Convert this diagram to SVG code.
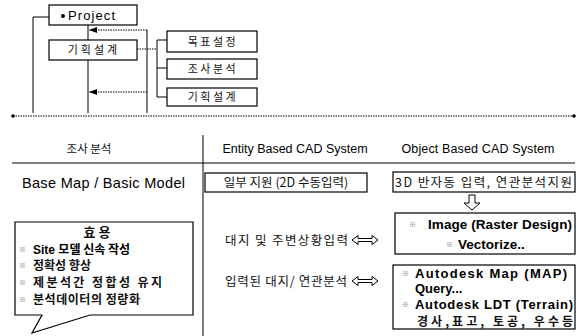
<svg xmlns="http://www.w3.org/2000/svg" width="579" height="336" viewBox="0 0 579 336">
<style>
.box{fill:#fff;stroke:#000;stroke-width:1.2}
.ln{fill:none;stroke:#000;stroke-width:1}
.dl{fill:none;stroke:#000;stroke-width:1;stroke-dasharray:1.5 1}
.t{font-family:'Liberation Sans','Noto Sans CJK KR',sans-serif;fill:#000}
.k{font-family:'Noto Sans CJK KR','Liberation Sans',sans-serif;fill:#111}
.b{font-weight:bold}
.bul{font-family:'Noto Sans CJK KR',sans-serif;font-size:7px;fill:#777}
</style>
<defs>
<marker id="ah" viewBox="0 0 8 6" refX="8" refY="3" markerWidth="8" markerHeight="6" orient="auto" markerUnits="userSpaceOnUse">
<path d="M0,0 L8,3 L0,6 Z" fill="#000"/>
</marker>
</defs>
<g id="connectors">
<path class="ln" d="M63,17 H33 V113"/>
<path class="ln" d="M88,25 V113"/>
<path class="ln" d="M147,30 V113"/>
<path class="dl" d="M147,30 H89" marker-end="url(#ah)"/>
<path class="dl" d="M147,92 H89" marker-end="url(#ah)"/>
<path class="dl" d="M137,49 H157"/>
<path class="ln" d="M157,40 V97"/>
<path class="ln" d="M157,40 H167 M157,68 H167 M157,97 H167"/>
<path class="dl" d="M13,116 H574" stroke-width="1.3"/>
<circle cx="13" cy="116" r="1.8" fill="#000"/>
<circle cx="574" cy="116" r="1.8" fill="#000"/>
<path class="ln" d="M12,163 H575" stroke-width="1.3"/>
<path class="ln" d="M203,135 V336"/>
<path class="ln" d="M469,195 H475 V203 H480 L472,210 L464,203 H469 Z" fill="#fff"/>
<path class="ln" d="M352,240 L358,235.5 V238.5 H372 V235.5 L378,240 L372,244.5 V241.5 H358 V244.5 Z" fill="#fff"/>
<path class="ln" d="M352,281 L358,276.5 V279.5 H372 V276.5 L378,281 L372,285.5 V282.5 H358 V285.5 Z" fill="#fff"/>
</g>
<g id="project">
<rect class="box" x="49" y="5" width="88" height="20"/>
<circle cx="63" cy="16" r="2" fill="#000"/>
<text class="t" x="68" y="20" font-size="13" textLength="47">Project</text>
</g>
<g id="plan">
<rect class="box" x="49" y="40" width="88" height="20"/>
<text class="k" x="94" y="54" font-size="11" letter-spacing="3" text-anchor="middle">기획설계</text>
</g>
<g id="goal">
<rect class="box" x="167" y="31" width="90" height="21"/>
<text class="k" x="213" y="45.5" font-size="11" letter-spacing="2.5" text-anchor="middle">목표설정</text>
</g>
<g id="survey">
<rect class="box" x="167" y="59" width="90" height="20"/>
<text class="k" x="213" y="73" font-size="11" letter-spacing="2.5" text-anchor="middle">조사분석</text>
</g>
<g id="plan2">
<rect class="box" x="167" y="88" width="90" height="18"/>
<text class="k" x="213" y="101" font-size="11" letter-spacing="2.5" text-anchor="middle">기획설계</text>
</g>
<g id="header">
<text class="k" x="89" y="152.5" font-size="11.5" text-anchor="middle">조사  분석</text>
<text class="t" x="295" y="152.5" font-size="12.5" text-anchor="middle">Entity Based CAD System</text>
<text class="t" x="478" y="152.5" font-size="12.5" text-anchor="middle" textLength="153">Object Based CAD System</text>
</g>
<g id="basemap">
<text class="t" x="22" y="188" font-size="14.5" textLength="163">Base Map / Basic Model</text>
</g>
<g id="partial">
<rect class="box" x="205" y="173" width="162" height="19"/>
<text class="k" x="286" y="187" font-size="12.5" text-anchor="middle">일부 지원 (2D 수동입력)</text>
</g>
<g id="semi3d">
<rect class="box" x="393" y="172" width="182" height="20"/>
<text class="k" x="395" y="186.5" font-size="12.5" textLength="177">3D 반자동 입력, 연관분석지원</text>
</g>
<g id="siteinput">
<text class="k" x="225" y="244.5" font-size="12.5" textLength="123">대지 및 주변상황입력</text>
</g>
<g id="image">
<rect class="box" x="395" y="213" width="180" height="41"/>
<text class="bul" x="409" y="227">※</text>
<text class="t b" x="428" y="229" font-size="13.5" textLength="144">Image (Raster Design)</text>
<text class="bul" x="446" y="247">※</text>
<text class="t b" x="458" y="249" font-size="13.5">Vectorize..</text>
</g>
<g id="analysis">
<text class="k" x="225" y="285.5" font-size="12.5" textLength="122">입력된 대지/ 연관분석</text>
</g>
<g id="autodesk">
<rect class="box" x="393" y="265" width="182" height="64"/>
<text class="bul" x="402" y="275.5">※</text>
<text class="t b" x="415" y="277.5" font-size="13" textLength="152">Autodesk Map (MAP)</text>
<text class="t b" x="415" y="293" font-size="13">Query...</text>
<text class="bul" x="402" y="307">※</text>
<text class="t b" x="415" y="309" font-size="13" textLength="158">Autodesk LDT (Terrain)</text>
<text class="k b" x="417" y="326" font-size="12" textLength="156">경사,표고, 토공, 우수등</text>
</g>
<g id="benefit">
<path class="box" d="M15,222 H193 V315 H90 L32,333 L42,315 H15 Z"/>
<text class="k b" x="97" y="236.5" font-size="13" text-anchor="middle">효 용</text>
<text class="bul" x="19" y="252">※</text>
<text class="t b" x="33" y="253.5" font-size="12">Site <tspan font-family="'Noto Sans CJK KR',sans-serif">모델 신속 작성</tspan></text>
<text class="bul" x="19" y="268">※</text>
<text class="k b" x="33" y="269.5" font-size="12">정확성 향상</text>
<text class="bul" x="19" y="285">※</text>
<text class="k b" x="33" y="286.5" font-size="12" textLength="129">제분석간  정합성 유지</text>
<text class="bul" x="19" y="302">※</text>
<text class="k b" x="33" y="303.5" font-size="12" textLength="107">분석데이터의 정량화</text>
</g>
</svg>
